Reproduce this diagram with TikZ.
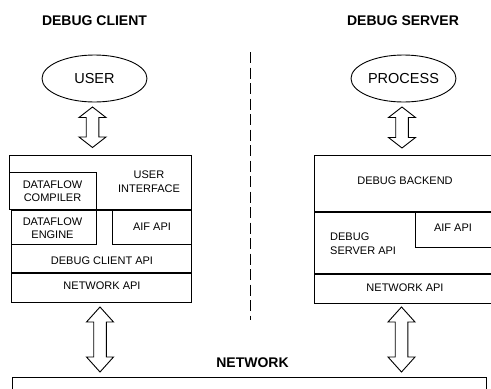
\documentclass[tikz,border=0pt]{standalone}
\usepackage{fontspec}
\setmainfont{Liberation Sans}
\usetikzlibrary{calc,shapes.geometric}
\newcommand{\boxat}[5]{\node[box, minimum width=#4pt, minimum height=#5pt] (#1) at (#2,#3) {};}
\newcommand{\fatarrow}[3]{%
  \draw[fat] let \p1=(#1), \p2=(#2) in
    (\x1,\y1) -- (\x1+13.5pt,\y1-#3pt) -- (\x1+6.3pt,\y1-#3pt) -- (\x1+6.3pt,\y2+#3pt)
    -- (\x1+13.5pt,\y2+#3pt) -- (\x1,\y2) -- (\x1-13.5pt,\y2+#3pt) -- (\x1-6.3pt,\y2+#3pt)
    -- (\x1-6.3pt,\y1-#3pt) -- (\x1-13.5pt,\y1-#3pt) -- cycle;}
\begin{document}
\begin{tikzpicture}[x=1pt,y=-1pt,
  box/.style={draw, line width=0.9pt, inner sep=0pt, outer sep=0pt, anchor=north west},
  lbl/.style={font=\fontsize{11}{13.5}\selectfont, align=center, inner sep=0pt},
  title/.style={font=\fontsize{14}{16}\selectfont\bfseries, inner sep=0pt},
  actor/.style={draw, ellipse, line width=0.9pt, minimum width=105pt, minimum height=47pt, inner sep=0pt, font=\fontsize{14.5}{16}\selectfont},
  fat/.style={draw, line width=0.9pt, fill=white, line join=miter},
  divider/.style={draw, line width=0.9pt, dash pattern=on 11pt off 4.5pt}
]
\useasboundingbox (0,0) rectangle (491,389);
\clip (0,0) rectangle (491,389);

% titles
\node[title] (tclient) at (94.5,21) {DEBUG CLIENT};
\node[title] (tserver) at (403,21) {DEBUG SERVER};
\node[title] (tnet) at (252.5,363) {NETWORK};

% actors
\node[actor] (user) at (94.5,78.5) {USER};
\node[actor] (proc) at (403.5,78.5) {PROCESS};

% divider
\coordinate (dtop) at (250,52);
\coordinate (dbot) at (250,320);
\draw[divider] (dtop) -- (dbot);

% client stack
\boxat{ui}{9.5}{155}{181.5}{54.5}
\boxat{dcomp}{9.5}{172}{86.5}{37.5}
\boxat{dcapi}{11}{210.5}{180}{62}
\boxat{deng}{11}{210.5}{85}{34}
\boxat{aif1}{112}{210.5}{79}{34}
\boxat{napi1}{11}{273.5}{180}{28.5}

\node[lbl] (uil) at (149,181.5) {USER\\INTERFACE};
\node[lbl] (dcompl) at (52.5,191) {DATAFLOW\\COMPILER};
\node[lbl] (dengl) at (52.5,228) {DATAFLOW\\ENGINE};
\node[lbl] (aif1l) at (152,226.5) {AIF API};
\node[lbl] (dcapil) at (102,261) {DEBUG CLIENT API};
\node[lbl] (napi1l) at (102,285.5) {NETWORK API};

% server stack
\boxat{back}{314}{155}{190}{56}
\boxat{dsapi}{314}{212}{190}{61}
\boxat{aif2}{415}{212}{90}{35}
\boxat{napi2}{314}{274}{190}{29}

\node[lbl] (backl) at (405,180.5) {DEBUG BACKEND};
\node[lbl] (aif2l) at (453,227.5) {AIF API};
\node[lbl, align=left, anchor=west] (dsapil) at (330,243.5) {DEBUG\\SERVER API};
\node[lbl] (napi2l) at (405,287.5) {NETWORK API};

% network
\boxat{net}{12}{377}{474}{30}

% arrows
\coordinate (a1t) at (92.5,107);
\coordinate (a1b) at (92.5,147.5);
\coordinate (a2t) at (402,107);
\coordinate (a2b) at (402,148);
\coordinate (a3t) at (100,307);
\coordinate (a3b) at (100,372);
\coordinate (a4t) at (401.5,307);
\coordinate (a4b) at (401.5,372);
\fatarrow{a1t}{a1b}{10.5}
\fatarrow{a2t}{a2b}{10.5}
\fatarrow{a3t}{a3b}{15}
\fatarrow{a4t}{a4b}{15}
\end{tikzpicture}
\end{document}
